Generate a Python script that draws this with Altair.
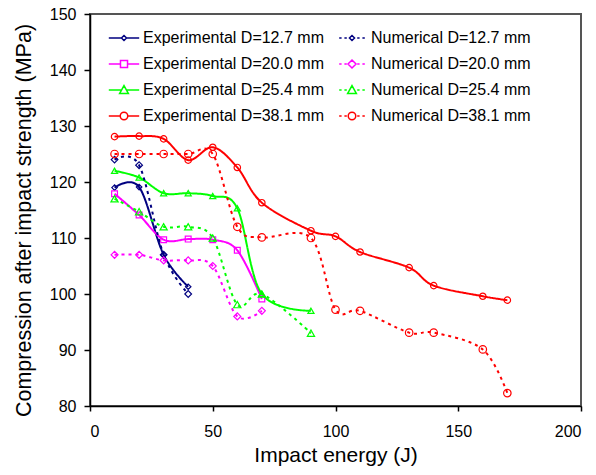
import altair as alt
import pandas as pd

# ---------------- data ----------------
energy_12 = [10, 20, 30, 40]
exp_12 = [119.0, 119.1, 107.0, 101.3]
num_12 = [124.0, 123.0, 107.0, 100.0]

energy_20 = [10, 20, 30, 40, 50, 60, 70]
exp_20 = [117.9, 114.1, 109.7, 109.8, 109.7, 107.8, 99.1]
num_20 = [107.0, 107.0, 106.0, 106.0, 105.0, 96.0, 97.0]

energy_25 = [10, 20, 30, 40, 50, 60, 70, 90]
exp_25 = [122.0, 120.8, 118.0, 118.0, 117.5, 115.3, 100.0, 97.0]
num_25 = [117.0, 114.7, 112.0, 112.0, 110.0, 98.1, 100.0, 93.0]

energy_38 = [10, 20, 30, 40, 50, 60, 70, 90, 100, 110, 130, 140, 160, 170]
exp_38 = [128.1, 128.2, 127.7, 123.9, 126.2, 122.6, 116.3, 111.3, 110.3, 107.5, 104.7, 101.5, 99.6, 98.9]
num_38 = [125.0, 125.0, 125.0, 125.0, 125.0, 112.0, 110.1, 110.0, 97.2, 97.0, 93.1, 93.1, 90.1, 82.3]

# legend order (filled column by column: experimental first, then numerical)
series_names = [
    "Experimental D=12.7 mm", "Experimental D=20.0 mm",
    "Experimental D=25.4 mm", "Experimental D=38.1 mm",
    "Numerical D=12.7 mm", "Numerical D=20.0 mm",
    "Numerical D=25.4 mm", "Numerical D=38.1 mm",
]

series_data = [
    (energy_12, exp_12), (energy_20, exp_20),
    (energy_25, exp_25), (energy_38, exp_38),
    (energy_12, num_12), (energy_20, num_20),
    (energy_25, num_25), (energy_38, num_38),
]

rows = []
for name, (xs, ys) in zip(series_names, series_data):
    for x, y in zip(xs, ys):
        rows.append({"energy": x, "cai": y, "series": name})
df = pd.DataFrame(rows)

# ---------------- styles ----------------
colors = ["#000080", "#FF00FF", "#00FF00", "#FF0000",
          "#000080", "#FF00FF", "#00FF00", "#FF0000"]
dashes = [[1, 0], [1, 0], [1, 0], [1, 0], [3, 4], [3, 4], [3, 4], [3, 4]]
plot_shapes = ["diamond", "square", "triangle-up", "circle",
               "diamond", "diamond", "triangle-up", "circle"]
plot_sizes = [30, 56, 64, 56, 30, 60, 64, 56]

EXP_L = "M-1.9,0H-{a}M{a},0H1.9"
NUM_L = "M-1.6,0H-1.3M-0.95,0H-0.65M0.65,0H0.95M1.3,0H1.6"


def diamond(h):
    return f"M0,-{h}L{h},0L0,{h}L-{h},0Z"


square = "M-0.44,-0.44H0.44V0.44H-0.44Z"
triangle = "M0,-0.55L0.55,0.45H-0.55Z"
circle = "M0.47,0A0.47,0.47,0,1,1,-0.47,0A0.47,0.47,0,1,1,0.47,0Z"

legend_paths = [
    EXP_L.format(a=0.32) + diamond(0.32),
    EXP_L.format(a=0.44) + square,
    EXP_L.format(a=0.3) + triangle,
    EXP_L.format(a=0.47) + circle,
    NUM_L + diamond(0.32),
    NUM_L + diamond(0.5),
    NUM_L + triangle,
    NUM_L + circle,
]

FONT = "Liberation Sans"

x_enc = alt.X(
    "energy:Q",
    scale=alt.Scale(domain=[0, 200], nice=False),
    axis=alt.Axis(
        values=[0, 50, 100, 150, 200], title="Impact energy (J)", grid=False,
        labelFontSize=16, titleFontSize=21, tickSize=5, labelPadding=12,
        domainColor="black", tickColor="black", domainWidth=1.5, tickWidth=1.5,
        labelColor="black", titleColor="black", titleFontWeight="normal",
        labelFont=FONT, titleFont=FONT, titleBaseline="alphabetic", titleY=55,
    ),
)
y_enc = alt.Y(
    "cai:Q",
    scale=alt.Scale(domain=[80, 150], nice=False, zero=False),
    axis=alt.Axis(
        values=[80, 90, 100, 110, 120, 130, 140, 150],
        title="Compression after impact strength (MPa)", grid=False,
        labelFontSize=16, titleFontSize=21.5, tickSize=6, labelPadding=8,
        domainColor="black", tickColor="black", domainWidth=1.5, tickWidth=1.5,
        labelColor="black", titleColor="black", titleFontWeight="normal",
        labelFont=FONT, titleFont=FONT, titleBaseline="alphabetic",
        titleX=-60, titleY=206,
    ),
)

color_scale = alt.Scale(domain=series_names, range=colors)

lines = alt.Chart(df).mark_line(interpolate="cardinal", strokeWidth=2).encode(
    x=x_enc, y=y_enc,
    color=alt.Color("series:N", scale=color_scale, legend=None),
    strokeDash=alt.StrokeDash("series:N", scale=alt.Scale(domain=series_names, range=dashes), legend=None),
    order="energy:Q",
)

points = alt.Chart(df).mark_point(filled=False, strokeWidth=1.2, opacity=1).encode(
    x=x_enc, y=y_enc,
    color=alt.Color("series:N", scale=color_scale, legend=None),
    shape=alt.Shape("series:N", scale=alt.Scale(domain=series_names, range=plot_shapes), legend=None),
    size=alt.Size("series:N", scale=alt.Scale(domain=series_names, range=plot_sizes), legend=None),
)

legend_props = dict(
    title=None, orient="none", legendX=25, legendY=15, columns=2,
    columnPadding=12, rowPadding=9, labelFontSize=16, labelFont=FONT,
    labelColor="black", labelOffset=10, symbolSize=256, symbolStrokeWidth=1.5,
    padding=0, labelLimit=400,
)

legend_layer = alt.Chart(df).transform_filter("datum.energy < 0").mark_point(
    filled=False, opacity=1, size=256, strokeWidth=1.5
).encode(
    x=x_enc, y=y_enc,
    color=alt.Color("series:N", scale=color_scale, legend=alt.Legend(**legend_props)),
    shape=alt.Shape("series:N", scale=alt.Scale(domain=series_names, range=legend_paths),
                    legend=alt.Legend(**legend_props)),
)

chart = alt.layer(lines, points, legend_layer).resolve_scale(
    color="independent", shape="independent", size="independent", strokeDash="independent"
).properties(
    width=491, height=392,
    autosize=alt.AutoSizeParams(type="none"),
    padding={"left": 82, "top": 6, "right": 7, "bottom": 61},
    background="white",
).configure_view(stroke="#555555", strokeWidth=2)

chart.save("out.html", embed_options={"renderer": "svg", "actions": False})
